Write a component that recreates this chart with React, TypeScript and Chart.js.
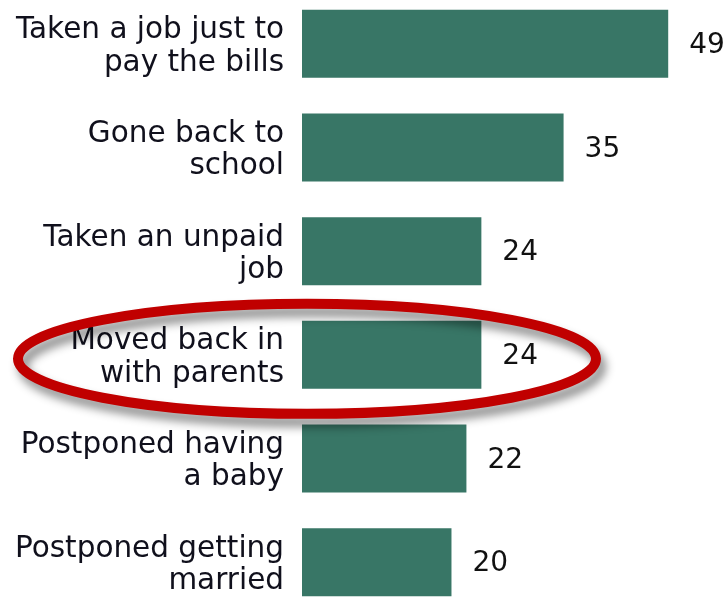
import React, { useEffect, useRef } from "react";
import { Chart, registerables } from "chart.js";

Chart.register(...registerables);

const categories: string[][] = [
  ["Taken a job just to", "pay the bills"],
  ["Gone back to", "school"],
  ["Taken an unpaid", "job"],
  ["Moved back in", "with parents"],
  ["Postponed having", "a baby"],
  ["Postponed getting", "married"],
];
const values: number[] = [49, 35, 24, 24, 22, 20];
const highlightIndex = 3;

const FONT = "'DejaVu Sans', Verdana, sans-serif";

const valueLabels = {
  id: "valueLabels",
  afterDatasetsDraw(chart: any) {
    const ctx = chart.ctx;
    const meta = chart.getDatasetMeta(0);
    ctx.save();
    ctx.font = `28px ${FONT}`;
    ctx.fillStyle = "#111";
    ctx.textAlign = "left";
    ctx.textBaseline = "middle";
    meta.data.forEach((bar: any, i: number) => {
      ctx.fillText(String(values[i]), bar.x + 21, bar.y + 2);
    });
    ctx.restore();
  },
};

const highlightEllipse = {
  id: "highlightEllipse",
  afterDraw(chart: any) {
    const ctx = chart.ctx;
    const y = chart.scales.y;
    const area = chart.chartArea;
    const cy = y.getPixelForValue(highlightIndex) + 4;
    const cx = area.left + 5;
    ctx.save();
    ctx.beginPath();
    ctx.ellipse(cx, cy, 289, 55, 0, 0, Math.PI * 2);
    ctx.shadowColor = "rgba(0,0,0,0.45)";
    ctx.shadowBlur = 10;
    ctx.shadowOffsetX = 5;
    ctx.shadowOffsetY = 8;
    ctx.strokeStyle = "#c00000";
    ctx.lineWidth = 10;
    ctx.stroke();
    ctx.restore();
  },
};

export default function App() {
  const ref = useRef<HTMLCanvasElement>(null);
  useEffect(() => {
    if (!ref.current) return;
    const chart = new Chart(ref.current, {
      type: "bar",
      data: {
        labels: categories,
        datasets: [
          {
            data: values,
            backgroundColor: "#387666",
            borderWidth: 0,
            categoryPercentage: 1,
            barPercentage: 0.656,
          },
        ],
      },
      options: {
        indexAxis: "y",
        responsive: false,
        animation: false,
        layout: { padding: 0 },
        plugins: { legend: { display: false }, tooltip: { enabled: false } },
        scales: {
          x: { display: false, min: 0, max: 57 },
          y: {
            grid: { display: false, drawTicks: false },
            border: { display: false },
            afterFit(scale: any) {
              scale.width = 302;
              scale.paddingTop = 0;
              scale.paddingBottom = 0;
            },
            ticks: {
              padding: 18,
              labelOffset: 3,
              color: "#10101c",
              font: { family: FONT, size: 29.5, lineHeight: 1.1 },
            },
          },
        },
      },
      plugins: [valueLabels, highlightEllipse],
    });
    return () => chart.destroy();
  }, []);
  return (
    <canvas
      ref={ref}
      width={728}
      height={622}
      style={{ position: "absolute", left: 0, top: -8, display: "block", width: 728, height: 622 }}
    />
  );
}
